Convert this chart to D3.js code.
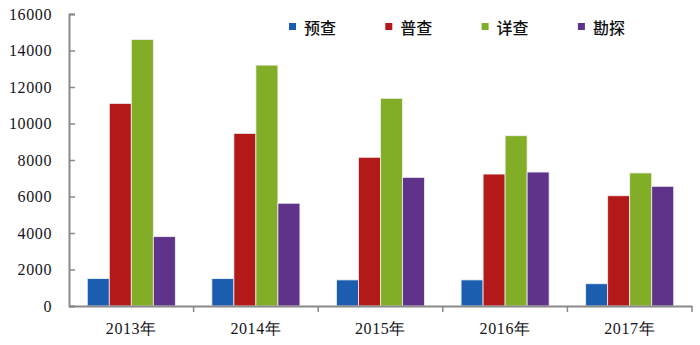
<!DOCTYPE html>
<meta charset="utf-8">
<html>
<head>
<script src="https://d3js.org/d3.v7.min.js"></script>
<style>
body { margin: 0; background: #fff; }
.tick text { font-family: "Liberation Serif", "DejaVu Serif", serif; font-size: 16px; letter-spacing: 0.6px; fill: #141420; }
.legend text { font-family: "Noto Sans CJK SC", sans-serif; font-size: 16px; font-weight: 500; fill: #111; }
</style>
</head>
<body>
<script>
var years = ["2013年", "2014年", "2015年", "2016年", "2017年"];
var seriesNames = ["预查", "普查", "详查", "勘探"];
var yuCha   = [1500, 1500, 1430, 1430, 1220];
var puCha   = [11100, 9460, 8150, 7230, 6040];
var xiangCha = [14600, 13200, 11380, 9330, 7290];
var kanTan  = [3800, 5630, 7050, 7340, 6560];
var yTicks = [0, 2000, 4000, 6000, 8000, 10000, 12000, 14000, 16000];
var colors = ["#1b5eb0", "#b31919", "#82ad27", "#5e3389"];

var values = [yuCha, puCha, xiangCha, kanTan];

var width = 700, height = 345;
var margin = {top: 14, right: 8, bottom: 39, left: 69};

var svg = d3.select("body").append("svg")
    .attr("width", width)
    .attr("height", height);

var x0 = d3.scaleBand()
    .domain(years)
    .range([margin.left, width - margin.right])
    .paddingInner(0)
    .paddingOuter(0);

var x1 = d3.scaleBand()
    .domain(seriesNames)
    .range([0, x0.bandwidth()])
    .paddingOuter(0.83)
    .paddingInner(0);

var y = d3.scaleLinear()
    .domain([0, 16000])
    .range([height - margin.bottom, margin.top]);

// bars
var groups = svg.selectAll("g.year")
  .data(years)
  .enter().append("g")
  .attr("class", "year")
  .attr("transform", function(d) { return "translate(" + x0(d) + ",0)"; });

groups.selectAll("rect")
  .data(function(d, i) { return seriesNames.map(function(s, j) { return {s: s, v: values[j][i], c: colors[j]}; }); })
  .enter().append("rect")
  .attr("x", function(d) { return x1(d.s); })
  .attr("y", function(d) { return y(d.v); })
  .attr("width", x1.bandwidth())
  .attr("height", function(d) { return y(0) - y(d.v); })
  .attr("fill", function(d) { return d.c; })
  .attr("stroke", "#f2f2f2")
  .attr("stroke-width", 0.8);

// y axis
var yAxis = svg.append("g")
    .attr("transform", "translate(" + margin.left + ",0)")
    .call(d3.axisLeft(y).tickValues(yTicks).tickSize(-6).tickPadding(17).tickFormat(d3.format("d")));
yAxis.select(".domain").attr("stroke", "#8a8a8a").attr("stroke-width", 2);
yAxis.selectAll(".tick line").attr("stroke", "#8a8a8a").attr("stroke-width", 1.5);

// x axis
var xAxis = svg.append("g")
    .attr("transform", "translate(0," + y(0) + ")")
    .call(d3.axisBottom(x0).tickSize(0).tickPadding(20));
xAxis.select(".domain").attr("stroke", "#8a8a8a").attr("stroke-width", 2);
xAxis.selectAll(".tick text").attr("dy", "0.5em");

// category boundary ticks
var bounds = years.map(function(d) { return x0(d); }).concat([x0.range()[1]]);
svg.append("g").selectAll("line")
  .data(bounds.slice(1))
  .enter().append("line")
  .attr("x1", function(d) { return d; })
  .attr("x2", function(d) { return d; })
  .attr("y1", y(0))
  .attr("y2", y(0) + 6)
  .attr("stroke", "#8a8a8a")
  .attr("stroke-width", 1.5);

// legend
var legend = svg.append("g").attr("class", "legend")
  .selectAll("g")
  .data(seriesNames)
  .enter().append("g")
  .attr("transform", function(d, i) { return "translate(" + (289 + i * 96.3) + ",28)"; });

legend.append("rect")
  .attr("x", 0).attr("y", -5)
  .attr("width", 7).attr("height", 7)
  .attr("fill", function(d, i) { return colors[i]; });

legend.append("text")
  .attr("x", 15)
  .attr("y", 0)
  .attr("dy", "0.35em")
  .text(function(d) { return d; });
</script>
</body>
</html>
